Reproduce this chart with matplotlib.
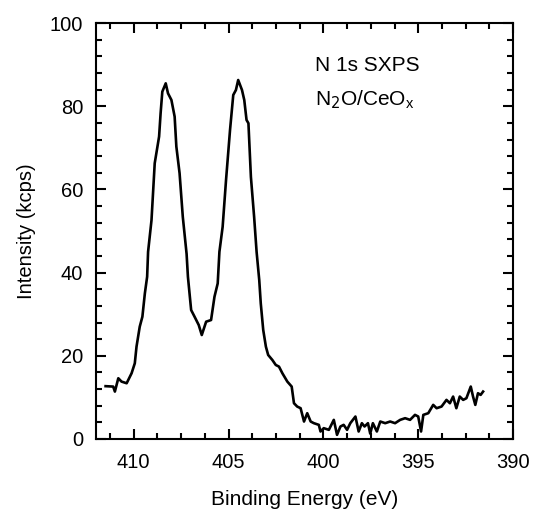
import matplotlib
matplotlib.use("Agg")
import matplotlib.pyplot as plt
from matplotlib.ticker import MultipleLocator

plt.rcParams['font.family'] = ['Liberation Sans', 'DejaVu Sans']

# N 1s spectrum
binding_energy = [
    411.48, 411.08, 410.99, 410.81, 410.64, 410.37, 410.11, 409.94, 409.85, 409.68,
    409.54, 409.41, 409.29, 409.24, 409.06, 408.89, 408.66, 408.58, 408.49, 408.31,
    408.19, 408.01, 407.84, 407.75, 407.58, 407.41, 407.21, 407.14, 406.97, 406.79,
    406.57, 406.41, 406.18, 405.92, 405.74, 405.57, 405.48, 405.31, 405.13, 404.92,
    404.75, 404.61, 404.49, 404.29, 404.17, 404.05, 403.95, 403.82, 403.65, 403.52,
    403.38, 403.30, 403.17, 403.03, 402.91, 402.69, 402.51, 402.34, 402.16, 401.90,
    401.67, 401.55, 401.38, 401.20, 401.02, 400.85, 400.67, 400.50, 400.24, 400.15,
    399.98, 399.71, 399.45, 399.28, 399.10, 398.93, 398.75, 398.58, 398.31, 398.14,
    397.97, 397.83, 397.65, 397.53, 397.39, 397.18, 397.00, 396.74, 396.48, 396.22,
    395.95, 395.69, 395.43, 395.17, 395.00, 394.85, 394.73, 394.47, 394.21, 394.03,
    393.77, 393.51, 393.33, 393.16, 392.99, 392.81, 392.63, 392.46, 392.23, 392.11,
    391.99, 391.85, 391.71, 391.58,
]
intensity = [
    12.7, 12.6, 11.4, 14.6, 13.8, 13.4, 15.8, 18.2, 22.2, 27.0,
    29.4, 35.0, 39.0, 45.0, 52.6, 66.3, 72.7, 78.3, 83.5, 85.5,
    83.1, 81.5, 77.5, 70.3, 63.9, 53.4, 44.5, 39.0, 31.0, 29.4,
    27.4, 25.0, 28.2, 28.6, 34.2, 37.4, 45.0, 51.0, 62.3, 74.3,
    82.7, 83.9, 86.3, 83.9, 81.5, 76.7, 75.9, 63.0, 53.4, 45.0,
    38.2, 32.6, 26.2, 22.2, 20.2, 19.0, 17.8, 17.4, 15.8, 13.8,
    12.6, 8.6, 7.8, 7.4, 4.2, 6.2, 4.2, 3.8, 3.4, 1.8,
    2.6, 2.2, 4.6, 1.0, 3.0, 3.4, 2.2, 3.8, 5.4, 1.8,
    3.8, 3.0, 3.8, 1.3, 3.8, 1.8, 4.2, 3.8, 4.2, 3.8,
    4.6, 5.0, 4.6, 5.8, 5.4, 1.8, 5.8, 6.2, 8.2, 7.4,
    7.8, 9.4, 8.6, 10.2, 7.4, 10.2, 9.4, 9.8, 12.6, 10.2,
    8.2, 11.0, 10.6, 11.4,
]

fig = plt.figure(figsize=(5.33, 5.12), dpi=100)
ax = fig.add_axes([0.1796, 0.1426, 0.783, 0.8124])

ax.plot(binding_energy, intensity, color='black', linewidth=1.9)

ax.set_xlim(412, 390)
ax.set_ylim(0, 100)
ax.xaxis.set_major_locator(MultipleLocator(5))
ax.xaxis.set_minor_locator(MultipleLocator(1.25))
ax.yaxis.set_major_locator(MultipleLocator(20))
ax.yaxis.set_minor_locator(MultipleLocator(4))
ax.tick_params(which='both', direction='in', top=True, right=True,
               width=1.5, labelsize=14.5)
ax.tick_params(axis='x', pad=10)
ax.tick_params(axis='y', pad=9)
ax.tick_params(which='major', length=7)
ax.tick_params(which='minor', length=4)
for s in ax.spines.values():
    s.set_linewidth(1.5)

ax.set_xlabel('Binding Energy (eV)', fontsize=15, labelpad=13)
ax.set_ylabel('Intensity (kcps)', fontsize=14.5, labelpad=10)

ax.text(400.45, 89.9, 'N 1s SXPS', fontsize=15, va='center', ha='left')
ax.text(400.45, 81.5, r'N$_2$O/CeO$_\mathregular{x}$', fontsize=15, va='center', ha='left')

fig.savefig('out.png', dpi=100)
